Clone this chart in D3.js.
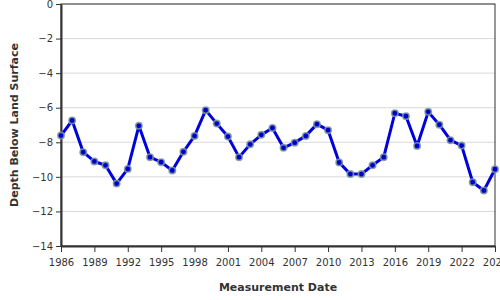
<!DOCTYPE html>
<html>
<head>
<meta charset="utf-8">
<script src="https://cdn.jsdelivr.net/npm/d3@7"></script>
<style>
  body { margin: 0; background: #fff; }
  svg { display: block; font-family: "DejaVu Sans", sans-serif; }
</style>
</head>
<body>
<svg id="chart" width="500" height="300"></svg>
<script>
// Yearly depth readings.
const years = [1986, 1987, 1988, 1989, 1990, 1991, 1992, 1993, 1994, 1995,
    1996, 1997, 1998, 1999, 2000, 2001, 2002, 2003, 2004, 2005,
    2006, 2007, 2008, 2009, 2010, 2011, 2012, 2013, 2014, 2015,
    2016, 2017, 2018, 2019, 2020, 2021, 2022, 2023, 2024, 2025];
const depths = [-7.61, -6.74, -8.57, -9.11, -9.33, -10.39, -9.54, -7.05, -8.86, -9.15,
    -9.63, -8.55, -7.63, -6.14, -6.92, -7.67, -8.86, -8.12, -7.57, -7.17,
    -8.32, -8.02, -7.63, -6.95, -7.30, -9.17, -9.84, -9.84, -9.33, -8.86,
    -6.32, -6.49, -8.21, -6.24, -6.98, -7.88, -8.19, -10.31, -10.79, -9.56];
const yTicks = [0, -2, -4, -6, -8, -10, -12, -14];
const xTicks = [1986, 1989, 1992, 1995, 1998, 2001, 2004, 2007, 2010, 2013, 2016, 2019, 2022, 2025];

let margin = {top: 4, right: 5, bottom: 54, left: 61};
let width = 500 - margin.left - margin.right;
let height = 300 - margin.top - margin.bottom;

let svg = d3.select("#chart");
let g = svg.append("g").attr("transform", `translate(${margin.left},${margin.top})`);

let x = d3.scaleLinear().domain([1986, 2025]).range([0, width]);
let y = d3.scaleLinear().domain([-14, 0]).range([height, 0]);

// horizontal gridlines
g.append("g")
    .selectAll("line")
    .data(yTicks)
    .enter().append("line")
    .attr("x1", 0)
    .attr("x2", width)
    .attr("y1", d => y(d))
    .attr("y2", d => y(d))
    .attr("stroke", "#d9d9d9")
    .attr("stroke-width", 1);

// thin frame on top and right
g.append("rect")
    .attr("x", 0)
    .attr("y", 0)
    .attr("width", width)
    .attr("height", height)
    .attr("fill", "none")
    .attr("stroke", "#333")
    .attr("stroke-width", 1);

let yAxis = g.append("g")
    .call(d3.axisLeft(y).tickValues(yTicks).tickSize(5).tickSizeOuter(0).tickFormat(d3.format("d")));
let xAxis = g.append("g")
    .attr("transform", `translate(0,${height})`)
    .call(d3.axisBottom(x).tickValues(xTicks).tickSize(6).tickSizeOuter(0).tickFormat(d3.format("d")));

[yAxis, xAxis].forEach(a => {
    a.select(".domain").attr("stroke", "#333").attr("stroke-width", 2);
    a.selectAll(".tick line").attr("stroke", "#333").attr("stroke-width", 1);
    a.selectAll(".tick text").attr("fill", "#333").style("font-size", "10px")
        .style("font-family", "'DejaVu Sans', sans-serif");
});
xAxis.selectAll(".tick text").attr("dy", "1.1em");

let line = d3.line()
    .x((d, i) => x(years[i]))
    .y(d => y(d));

g.append("path")
    .datum(depths)
    .attr("d", line)
    .attr("fill", "none")
    .attr("stroke", "#0000dd")
    .attr("stroke-width", 3)
    .attr("stroke-linejoin", "round");

g.append("g")
    .selectAll("circle")
    .data(depths)
    .enter().append("circle")
    .attr("cx", (d, i) => x(years[i]))
    .attr("cy", d => y(d))
    .attr("r", 3.2)
    .attr("fill", "#0000cc")
    .attr("stroke", "#7f9a9a")
    .attr("stroke-opacity", 0.85)
    .attr("stroke-width", 1.6);

svg.append("text")
    .attr("x", margin.left + width / 2)
    .attr("y", 291)
    .attr("text-anchor", "middle")
    .attr("fill", "#333")
    .style("font-size", "11px")
    .style("font-weight", "bold")
    .text("Measurement Date");

svg.append("text")
    .attr("transform", `translate(18,${margin.top + height / 2}) rotate(-90)`)
    .attr("text-anchor", "middle")
    .attr("fill", "#333")
    .style("font-size", "11px")
    .style("font-weight", "bold")
    .text("Depth Below Land Surface");
</script>
</body>
</html>
